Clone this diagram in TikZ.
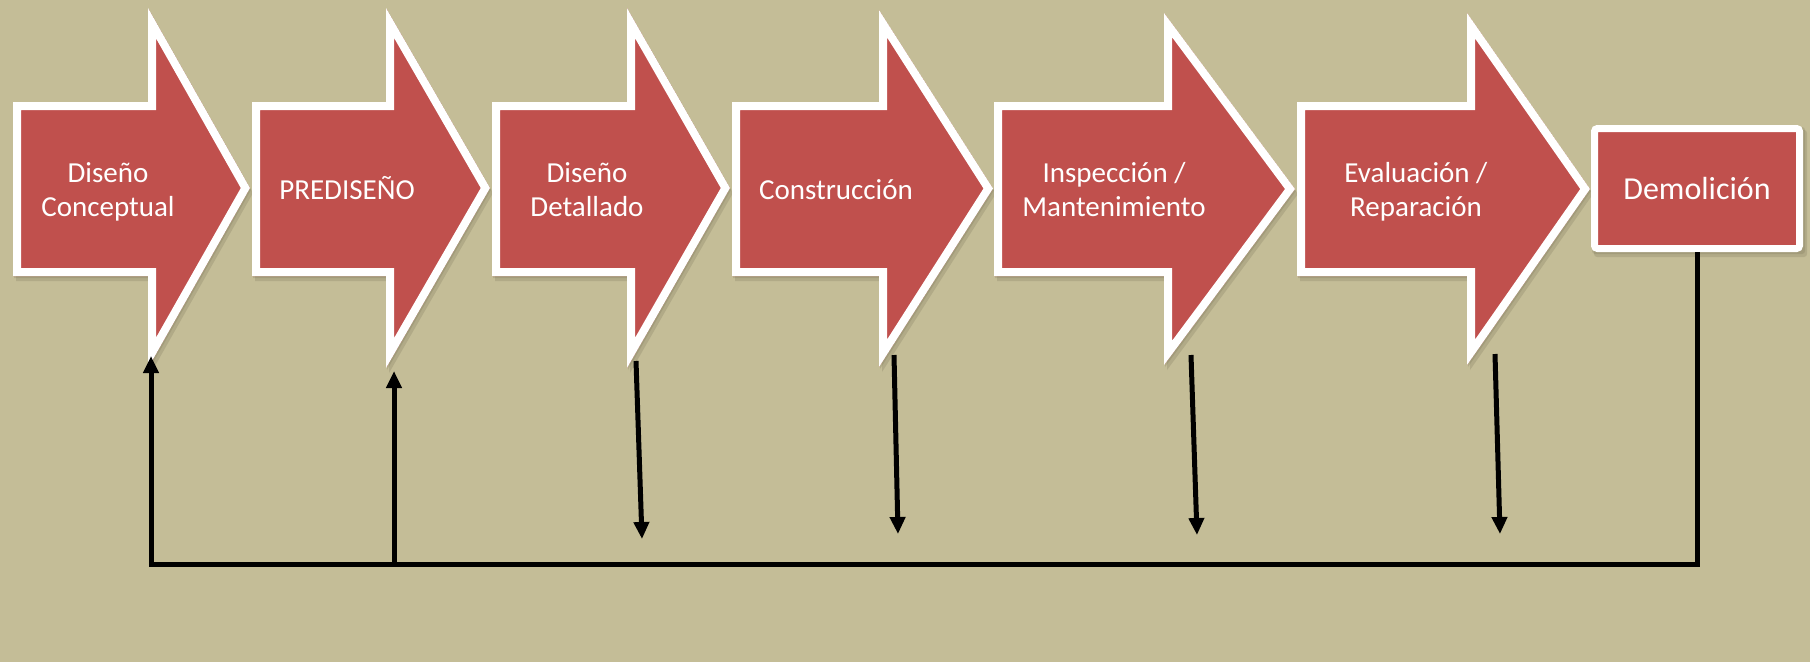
\documentclass[tikz,border=0pt]{standalone}
\usepackage{fontspec}
\setmainfont{Carlito}
\usetikzlibrary{arrows.meta}
\definecolor{bgtan}{HTML}{C4BD97}
\definecolor{shapered}{HTML}{C0504D}
\definecolor{shadowc}{HTML}{6F6A50}
% #1 left, #2 head base x, #3 tip x, #4 head top y, #5 head bottom y
\newcommand{\stagearrow}[5]{%
  \fill[shadowc, opacity=0.22, shift={(1,2)}] (#1,102) -- (#2,102) -- (#2,#4) -- (#3,{(#4+#5)/2}) -- (#2,#5) -- (#2,276) -- (#1,276) -- cycle;
  \fill[shadowc, opacity=0.22, shift={(3,5)}] (#1,102) -- (#2,102) -- (#2,#4) -- (#3,{(#4+#5)/2}) -- (#2,#5) -- (#2,276) -- (#1,276) -- cycle;
  \begin{scope}
    \clip (#1,102) -- (#2,102) -- (#2,#4) -- (#3,{(#4+#5)/2}) -- (#2,#5) -- (#2,276) -- (#1,276) -- cycle;
    \fill[shapered] (#1,102) -- (#2,102) -- (#2,#4) -- (#3,{(#4+#5)/2}) -- (#2,#5) -- (#2,276) -- (#1,276) -- cycle;
    \draw[white, line width=16pt, line join=miter] (#1,102) -- (#2,102) -- (#2,#4) -- (#3,{(#4+#5)/2}) -- (#2,#5) -- (#2,276) -- (#1,276) -- cycle;
  \end{scope}
}
\begin{document}
\begin{tikzpicture}[x=1pt,y=-1pt,
  lbl/.style={text=white, font=\fontsize{29}{34}\selectfont, align=center, inner sep=0pt},
  boxstage/.style={draw=white, line width=7pt, fill=shapered, rounded corners=3pt,
    minimum width=205pt, minimum height=120pt, inner sep=0pt, text=white,
    font=\fontsize{32}{38}\selectfont, text height=22pt, text depth=0pt},
  conn/.style={line width=5pt, black},
  tipped/.style={-{Triangle[length=17pt,width=15pt]}}]
\fill[bgtan] (0,0) rectangle (1810,662);
\useasboundingbox (0,0) rectangle (1810,662);

% stage arrows
\stagearrow{13}{148}{250}{8}{368}
\stagearrow{252}{386}{490}{8}{368}
\stagearrow{492}{627}{730}{8}{368}
\stagearrow{732}{879}{993}{10}{367}
\stagearrow{994}{1164}{1295}{13}{365}
\stagearrow{1297}{1467}{1590}{13}{365}

% final box
\fill[shadowc, opacity=0.22, rounded corners=3pt] (1592,127) rectangle (1805,254);
\fill[shadowc, opacity=0.22, rounded corners=3pt] (1594,130) rectangle (1807,257);
\node[boxstage] (dem) at (1697,188.5) {Demolición};

% labels (two-line labels: base = last line baseline)
\node[lbl, anchor=base] (t1) at (108,216) {Diseño\\Conceptual};
\node[lbl, anchor=base] (t2) at (347,199) {PREDISEÑO};
\node[lbl, anchor=base] (t3) at (587,216) {Diseño\\Detallado};
\node[lbl, anchor=base] (t4) at (836,199) {Construcción};
\node[lbl, anchor=base] (t5) at (1114,216) {Inspección /\\Mantenimiento};
\node[lbl, anchor=base] (t6) at (1416,216) {Evaluación /\\Reparación};

% connector points
\coordinate (up1) at (151,356);
\coordinate (up2) at (394,371);
\coordinate (corner) at (151,564);
\coordinate (j2) at (394,564);
\coordinate (d3s) at (636,361);
\coordinate (d3e) at (642,539);
\coordinate (d4s) at (894,355);
\coordinate (d4e) at (898,534);
\coordinate (d5s) at (1191,355);
\coordinate (d5e) at (1197,535);
\coordinate (d6s) at (1495,354);
\coordinate (d6e) at (1500,534);

% connectors
\draw[conn, tipped] (dem.south) |- (corner) -- (up1);
\draw[conn, tipped] (j2) -- (up2);
\draw[conn, tipped] (d3s) -- (d3e);
\draw[conn, tipped] (d4s) -- (d4e);
\draw[conn, tipped] (d5s) -- (d5e);
\draw[conn, tipped] (d6s) -- (d6e);
\end{tikzpicture}
\end{document}
